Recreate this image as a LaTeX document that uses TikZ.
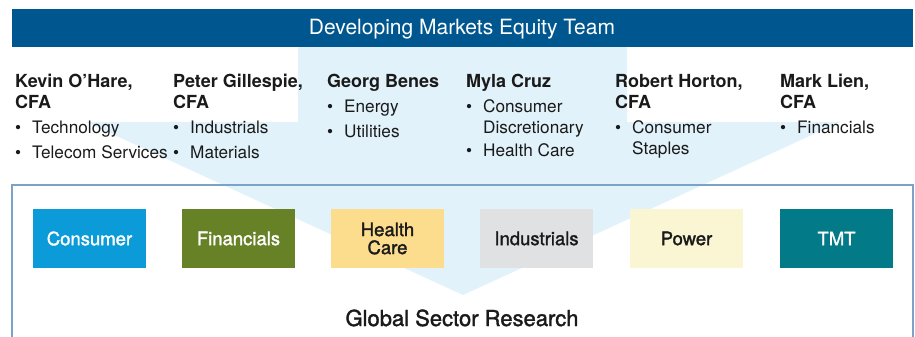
\documentclass[tikz,border=0pt]{standalone}
\usepackage{fontspec}
\setmainfont{TeX Gyre Heros}
\newfontfamily\medfont[FakeBold=1.6]{TeX Gyre Heros}
\definecolor{barblue}{HTML}{00578F}
\definecolor{arrowblue}{HTML}{E1F2FA}
\definecolor{frameblue}{HTML}{7BA3C8}
\definecolor{txt}{HTML}{1A1A1A}
\definecolor{cConsumer}{HTML}{0A9BD8}
\definecolor{cFin}{HTML}{678226}
\definecolor{cHealth}{HTML}{FCDD8E}
\definecolor{cInd}{HTML}{E0E1E3}
\definecolor{cPower}{HTML}{FAF5D2}
\definecolor{cTMT}{HTML}{027A87}
\newcommand\bul{\makebox[17pt][l]{\textbullet}}
\tikzset{
  persontxt/.style={anchor=base west, inner sep=0pt, text=txt, font=\fontsize{18}{21}\selectfont\bfseries},
  itemtxt/.style={anchor=base west, inner sep=0pt, text=txt, font=\fontsize{17.2}{20}\selectfont},
  sectorbox/.style={minimum width=113pt, minimum height=59pt, inner sep=0pt, align=center, font=\fontsize{18.5}{18}\medfont},
}
\begin{document}
\begin{tikzpicture}[x=1pt,y=-1pt]
\useasboundingbox (0,0) rectangle (915,337);
\clip (0,0) rectangle (915,337);
% big arrow
\fill[arrowblue] (298,47) -- (627,47) -- (627,122) -- (840,122) -- (463,295) -- (86,122) -- (298,122) -- cycle;
% header bar
\fill[barblue] (12,9) rectangle (913,47);
\node[anchor=base, inner sep=0pt, text=white, font=\fontsize{21}{24}\selectfont] (hdr) at (462,35) {Developing Markets Equity Team};
% frame
\draw[frameblue, line width=1.2pt] (12,345) -- (12,185) -- (913,185) -- (913,345);
% people
\node[persontxt] (k1) at (15,88) {Kevin O’Hare,};
\node[persontxt] (k2) at (15,108) {CFA};
\node[itemtxt] (k3) at (15,133) {\bul Technology};
\node[itemtxt] (k4) at (15,158) {\bul Telecom Services};
\node[persontxt] (p1) at (173,88) {Peter Gillespie,};
\node[persontxt] (p2) at (173,108) {CFA};
\node[itemtxt] (p3) at (173,133) {\bul Industrials};
\node[itemtxt] (p4) at (173,158) {\bul Materials};
\node[persontxt] (g1) at (327,88) {Georg Benes};
\node[itemtxt] (g2) at (327,112) {\bul Energy};
\node[itemtxt] (g3) at (327,137) {\bul Utilities};
\node[persontxt] (m1) at (466,88) {Myla Cruz};
\node[itemtxt] (m2) at (466,112) {\bul Consumer};
\node[itemtxt] (m3) at (483,133) {Discretionary};
\node[itemtxt] (m4) at (466,156) {\bul Health Care};
\node[persontxt] (r1) at (615,88) {Robert Horton,};
\node[persontxt] (r2) at (615,108) {CFA};
\node[itemtxt] (r3) at (615,133) {\bul Consumer};
\node[itemtxt] (r4) at (632,154) {Staples};
\node[persontxt] (l1) at (780,88) {Mark Lien,};
\node[persontxt] (l2) at (780,108) {CFA};
\node[itemtxt] (l3) at (780,133) {\bul Financials};
% sectors
\node[sectorbox, fill=cConsumer, text=white] (s1) at (89.5,238.5) {Consumer};
\node[sectorbox, fill=cFin, text=white] (s2) at (238.5,238.5) {Financials};
\node[sectorbox, fill=cHealth, text=txt] (s3) at (387.5,238.5) {Health\\Care};
\node[sectorbox, fill=cInd, text=txt] (s4) at (536.5,238.5) {Industrials};
\node[sectorbox, fill=cPower, text=txt] (s5) at (686.5,238.5) {Power};
\node[sectorbox, fill=cTMT, text=white] (s6) at (836.5,238.5) {TMT};
\node[anchor=base, inner sep=0pt, text=txt, font=\fontsize{22}{24}\medfont] (gsr) at (462,326) {Global Sector Research};
\end{tikzpicture}
\end{document}
